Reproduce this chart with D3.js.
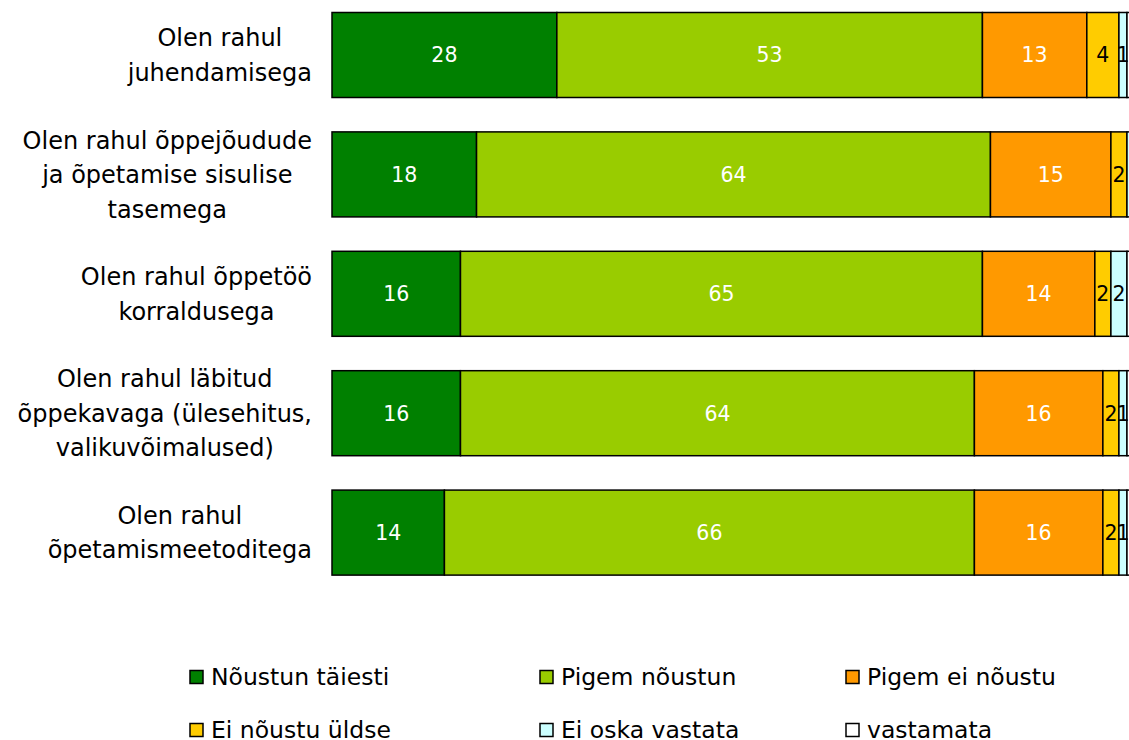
<!DOCTYPE html>
<html>
<head>
<meta charset="utf-8">
<script src="https://cdn.jsdelivr.net/npm/d3@7"></script>
<style>
  body { margin: 0; background: #fff; }
  svg { display: block; font-family: "DejaVu Sans", Verdana, sans-serif; }
</style>
</head>
<body>
<div id="chart"></div>
<script>
const WIDTH = 1129;
const HEIGHT = 740;

const categories = [
    ['Olen rahul', 'juhendamisega'],
    ['Olen rahul õppejõudude', 'ja õpetamise sisulise', 'tasemega'],
    ['Olen rahul õppetöö', 'korraldusega'],
    ['Olen rahul läbitud', 'õppekavaga (ülesehitus,', 'valikuvõimalused)'],
    ['Olen rahul', 'õpetamismeetoditega']
];

const seriesNames = ['Nõustun täiesti', 'Pigem nõustun', 'Pigem ei nõustu', 'Ei nõustu üldse', 'Ei oska vastata', 'vastamata'];
const seriesColors = ['#008000', '#99cc00', '#ff9900', '#ffcc00', '#ccffff', '#ffffff'];
const labelColors = ['#fff', '#fff', '#fff', '#000', '#000', '#000'];

// values per series, one entry per category
const noustunTaiesti = [28, 18, 16, 16, 14];
const pigemNoustun = [53, 64, 65, 64, 66];
const pigemEiNoustu = [13, 15, 14, 16, 16];
const eiNoustuYldse = [4, 2, 2, 2, 2];
const eiOskaVastata = [1, 1, 2, 1, 1];
const vastamata = [1, 0, 1, 1, 1];

const seriesValues = [noustunTaiesti, pigemNoustun, pigemEiNoustu, eiNoustuYldse, eiOskaVastata, vastamata];

const svg = d3.select('#chart').append('svg')
    .attr('width', WIDTH)
    .attr('height', HEIGHT);

const x = d3.scaleLinear()
    .domain([0, 100])
    .range([332, 1135]);

const y = d3.scaleBand()
    .domain(d3.range(categories.length))
    .range([-4.7, 592.3])
    .paddingInner(0.288)
    .paddingOuter(0.144);

// stack the series
const rows = categories.map((c, i) => {
    let acc = 0;
    return seriesValues.map((vals, s) => {
        const seg = { cat: i, series: s, value: vals[i], x0: acc, x1: acc + vals[i] };
        acc += vals[i];
        return seg;
    });
});

const bars = svg.append('g');
const mid = d => (x(d.x0) + x(d.x1)) / 2;

rows.forEach(row => {
    const g = bars.append('g');
    g.selectAll('rect')
        .data(row.filter(d => d.value > 0))
        .enter()
        .append('rect')
        .attr('x', d => x(d.x0))
        .attr('y', d => y(d.cat))
        .attr('width', d => x(d.x1) - x(d.x0))
        .attr('height', y.bandwidth())
        .attr('fill', d => seriesColors[d.series])
        .attr('stroke', '#000')
        .attr('stroke-width', 1.5);

    // labels whose segment runs off the picture are not shown
    g.selectAll('text')
        .data(row.filter(d => d.value > 0 && mid(d) < WIDTH - 3))
        .enter()
        .append('text')
        .attr('x', mid)
        .attr('y', d => y(d.cat) + y.bandwidth() / 2)
        .attr('dy', '0.36em')
        .attr('text-anchor', 'middle')
        .attr('font-size', 20.5)
        .attr('fill', d => labelColors[d.series])
        .text(d => d.value);
});

// category labels: lines centred within their block, block right aligned
const LABEL_RIGHT = 312;
const LINE_H = 34.5;
const labels = svg.append('g');

categories.forEach((lines, i) => {
    const g = labels.append('g');
    const t = g.selectAll('text')
        .data(lines)
        .enter()
        .append('text')
        .attr('font-size', 24)
        .attr('fill', '#000')
        .attr('text-anchor', 'middle')
        .attr('y', (d, j) => y(i) + y.bandwidth() / 2 + (j - (lines.length - 1) / 2) * LINE_H)
        .attr('dy', '0.36em')
        .text(d => d);
    let maxW = 0;
    t.each(function() { maxW = Math.max(maxW, this.getComputedTextLength()); });
    t.attr('x', LABEL_RIGHT - maxW / 2);
});

// legend
const legendX = [190, 540, 846];
const legendY = [677, 730];
const legend = svg.append('g');

seriesNames.forEach((name, i) => {
    const lx = legendX[i % 3];
    const ly = legendY[Math.floor(i / 3)];
    legend.append('rect')
        .attr('x', lx)
        .attr('y', ly - 6.5)
        .attr('width', 13)
        .attr('height', 13)
        .attr('fill', seriesColors[i])
        .attr('stroke', '#000')
        .attr('stroke-width', 1.5);
    legend.append('text')
        .attr('x', lx + 21)
        .attr('y', ly)
        .attr('dy', '0.36em')
        .attr('font-size', 23.5)
        .attr('fill', '#000')
        .text(name);
});
</script>
</body>
</html>
